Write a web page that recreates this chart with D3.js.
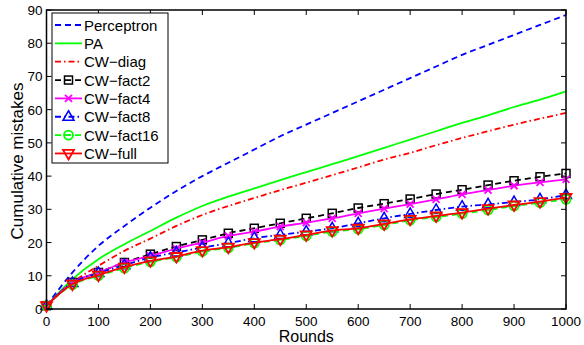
<!DOCTYPE html>
<html>
<head>
<meta charset="utf-8">
<script src="https://cdn.jsdelivr.net/npm/d3@7"></script>
<style>
  body { margin: 0; background: #fff; }
  svg text { font-family: "Liberation Sans", Arial, sans-serif; fill: #000; }
</style>
</head>
<body>
<svg id="chart" width="584" height="345"></svg>
<script>
//*************************************************
// Data
//*************************************************
var rounds = [0, 50, 100, 150, 200, 250, 300, 350, 400, 450, 500, 550, 600, 650, 700, 750, 800, 850, 900, 950, 1000];
var perceptron = [1, 11, 19, 25, 30.5, 35.5, 40, 44, 48, 52, 55.5, 59, 62.5, 66, 69.5, 73, 76.5, 79.5, 82.5, 85.5, 88.5];
var pa        = [1, 9, 15, 19.5, 23.5, 27.5, 31, 33.8, 36.3, 38.8, 41.2, 43.6, 46, 48.5, 51, 53.5, 56, 58.3, 60.8, 63, 65.5];
var cwDiag    = [1, 8, 13, 17.5, 21.2, 25, 28.3, 31, 33.4, 35.8, 38, 40.3, 42.6, 45, 47, 49.3, 51.5, 53.5, 55.5, 57.3, 59];
var cwFact2   = [1, 8, 11, 14, 16.5, 18.8, 20.8, 22.8, 24.3, 25.8, 27.3, 28.8, 30.4, 31.7, 33.1, 34.6, 35.9, 37.3, 38.6, 39.8, 40.8];
var cwFact4   = [1, 8, 11, 14, 16, 18.2, 20, 22, 23.3, 24.8, 26, 27.3, 28.8, 30.2, 31.6, 33, 34.5, 35.8, 37.1, 38.1, 39];
var cwFact8   = [1, 7.8, 10.8, 13.2, 15.5, 17, 18.5, 19.8, 21.3, 22.3, 23.3, 24.3, 25.8, 27.3, 28.6, 29.8, 30.8, 31.5, 32.2, 33, 34.3];
var cwFact16  = [1, 7.3, 10, 12.3, 14.2, 15.6, 17.3, 18.4, 19.8, 20.8, 22, 23.3, 24, 25.3, 26.7, 27.7, 28.7, 29.8, 31, 32, 33];
var cwFull    = [1, 7.5, 10.2, 12.6, 14.5, 15.8, 17.6, 18.6, 20, 21, 22.3, 23.6, 24.3, 25.6, 27, 28, 29, 30.2, 31.3, 32.3, 33.6];

var xTicks = [0, 100, 200, 300, 400, 500, 600, 700, 800, 900, 1000];
var yTicks = [0, 10, 20, 30, 40, 50, 60, 70, 80, 90];

var seriesNames = ['Perceptron', 'PA', 'CW\u2212diag', 'CW\u2212fact2', 'CW\u2212fact4', 'CW\u2212fact8', 'CW\u2212fact16', 'CW\u2212full'];
var seriesValues = [perceptron, pa, cwDiag, cwFact2, cwFact4, cwFact8, cwFact16, cwFull];
var seriesColors = ['#0000ff', '#00ff00', '#ff0000', '#000000', '#ff00ff', '#0000ff', '#00ff00', '#ff0000'];
var seriesDash = ['6,4', null, '6,3,1.5,3', '6,4', null, '6,3,1.5,3', '6,4', null];
var seriesMarker = [null, null, null, 'square', 'x', 'up', 'circle', 'down'];

//*************************************************
// Layout
//*************************************************
var padding = { left: 46.5, right: 18, top: 10, bottom: 36 };
var width = 584, height = 345;

var svg = d3.select('#chart');
var x = d3.scaleLinear().domain([0, 1000]).range([padding.left, width - padding.right]);
var y = d3.scaleLinear().domain([0, 90]).range([height - padding.bottom, padding.top]);

var x0 = x.range()[0], x1 = x.range()[1], y0 = y.range()[0], y1 = y.range()[1];

var line = d3.line()
    .x(function (d) { return x(d[0]); })
    .y(function (d) { return y(d[1]); })
    .curve(d3.curveMonotoneX);

var plot = svg.append('g');

//----------------------------------------------------------------------------------
// Marker drawing helper
//----------------------------------------------------------------------------------
function drawMarker(g, type, cx, cy, color) {
    var s = 4.5;
    if (type === 'square') {
        g.append('rect').attr('x', cx - s + 0.5).attr('y', cy - s + 0.5)
            .attr('width', 2 * s - 1).attr('height', 2 * s - 1)
            .attr('fill', 'none').attr('stroke', color).attr('stroke-width', 1.5);
    } else if (type === 'x') {
        g.append('path').attr('d', 'M' + (cx - 3.5) + ',' + (cy - 3.5) + 'L' + (cx + 3.5) + ',' + (cy + 3.5) +
            'M' + (cx - 3.5) + ',' + (cy + 3.5) + 'L' + (cx + 3.5) + ',' + (cy - 3.5))
            .attr('stroke', color).attr('stroke-width', 1.8);
    } else if (type === 'up') {
        g.append('path').attr('d', 'M' + cx + ',' + (cy - 6) + 'L' + (cx + 5.5) + ',' + (cy + 3.5) +
            'L' + (cx - 5.5) + ',' + (cy + 3.5) + 'Z')
            .attr('fill', 'none').attr('stroke', color).attr('stroke-width', 1.5);
    } else if (type === 'down') {
        g.append('path').attr('d', 'M' + cx + ',' + (cy + 6) + 'L' + (cx + 5.5) + ',' + (cy - 3.5) +
            'L' + (cx - 5.5) + ',' + (cy - 3.5) + 'Z')
            .attr('fill', 'none').attr('stroke', color).attr('stroke-width', 1.8);
    } else if (type === 'circle') {
        g.append('circle').attr('cx', cx).attr('cy', cy).attr('r', 4.5)
            .attr('fill', 'none').attr('stroke', color).attr('stroke-width', 1.8);
        g.append('line').attr('x1', cx - 2.5).attr('x2', cx + 2.5).attr('y1', cy).attr('y2', cy)
            .attr('stroke', color).attr('stroke-width', 1.5);
    }
}

//----------------------------------------------------------------------------------
// Series
//----------------------------------------------------------------------------------
seriesValues.forEach(function (vals, i) {
    var pts = rounds.map(function (r, k) { return [r, vals[k]]; });
    var g = plot.append('g');
    g.append('path')
        .attr('d', line(pts))
        .attr('fill', 'none')
        .attr('stroke', seriesColors[i])
        .attr('stroke-width', 1.8)
        .attr('stroke-dasharray', seriesDash[i]);
    if (seriesMarker[i]) {
        pts.forEach(function (p) {
            drawMarker(g, seriesMarker[i], x(p[0]), y(p[1]), seriesColors[i]);
        });
    }
});

//----------------------------------------------------------------------------------
// Axes box and ticks (inward, all four sides)
//----------------------------------------------------------------------------------
var axisG = svg.append('g');
axisG.append('rect').attr('x', x0).attr('y', y1).attr('width', x1 - x0).attr('height', y0 - y1)
    .attr('fill', 'none').attr('stroke', '#000').attr('stroke-width', 1.5);

xTicks.forEach(function (t) {
    axisG.append('line').attr('x1', x(t)).attr('x2', x(t)).attr('y1', y0).attr('y2', y0 - 5)
        .attr('stroke', '#000').attr('stroke-width', 1);
    axisG.append('line').attr('x1', x(t)).attr('x2', x(t)).attr('y1', y1).attr('y2', y1 + 5)
        .attr('stroke', '#000').attr('stroke-width', 1);
    axisG.append('text').attr('x', x(t)).attr('y', y0 + 16.5).attr('text-anchor', 'middle')
        .style('font-size', '13.5px').text(t);
});
yTicks.forEach(function (t) {
    axisG.append('line').attr('x1', x0).attr('x2', x0 + 5).attr('y1', y(t)).attr('y2', y(t))
        .attr('stroke', '#000').attr('stroke-width', 1);
    axisG.append('line').attr('x1', x1).attr('x2', x1 - 5).attr('y1', y(t)).attr('y2', y(t))
        .attr('stroke', '#000').attr('stroke-width', 1);
    axisG.append('text').attr('x', x0 - 4).attr('y', y(t) + 5).attr('text-anchor', 'end')
        .style('font-size', '13.5px').text(t);
});

axisG.append('text').attr('x', (x0 + x1) / 2).attr('y', 341.5).attr('text-anchor', 'middle')
    .style('font-size', '16px').text('Rounds');
axisG.append('text')
    .attr('transform', 'translate(23,161) rotate(-90)')
    .attr('text-anchor', 'middle')
    .style('font-size', '17px').text('Cumulative mistakes');

//----------------------------------------------------------------------------------
// Legend
//----------------------------------------------------------------------------------
var legend = svg.append('g');
legend.append('rect').attr('x', 52).attr('y', 13).attr('width', 116).attr('height', 150)
    .attr('fill', '#fff').attr('stroke', '#000').attr('stroke-width', 1);

seriesNames.forEach(function (name, i) {
    var ly = 25 + i * 18.35;
    legend.append('line').attr('x1', 55).attr('x2', 82).attr('y1', ly).attr('y2', ly)
        .attr('stroke', seriesColors[i]).attr('stroke-width', 1.8)
        .attr('stroke-dasharray', seriesDash[i]);
    if (seriesMarker[i]) {
        drawMarker(legend, seriesMarker[i], 68.5, ly, seriesColors[i]);
    }
    legend.append('text').attr('x', 84).attr('y', ly + 5.5)
        .style('font-size', '15px').text(name);
});
</script>
</body>
</html>
